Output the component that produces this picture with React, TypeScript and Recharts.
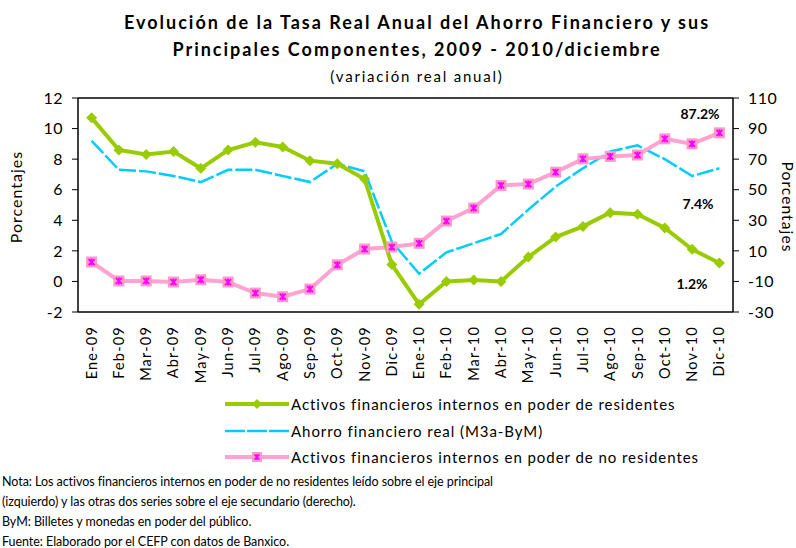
import React from 'react';
import { ComposedChart, Line, XAxis, YAxis, ReferenceLine } from 'recharts';

const months = [
  'Ene-09', 'Feb-09', 'Mar-09', 'Abr-09', 'May-09', 'Jun-09', 'Jul-09', 'Ago-09', 'Sep-09', 'Oct-09', 'Nov-09', 'Dic-09',
  'Ene-10', 'Feb-10', 'Mar-10', 'Abr-10', 'May-10', 'Jun-10', 'Jul-10', 'Ago-10', 'Sep-10', 'Oct-10', 'Nov-10', 'Dic-10',
];

// eje izquierdo
const residentes = [10.7, 8.6, 8.3, 8.5, 7.4, 8.6, 9.1, 8.8, 7.9, 7.7, 6.7, 1.1, -1.5, 0.0, 0.1, 0.0, 1.6, 2.9, 3.6, 4.5, 4.4, 3.5, 2.1, 1.2];
const ahorro = [9.2, 7.3, 7.2, 6.9, 6.5, 7.3, 7.3, 6.9, 6.5, 7.7, 7.2, 2.6, 0.5, 1.9, 2.5, 3.1, 4.7, 6.2, 7.4, 8.5, 8.9, 8.0, 6.9, 7.4];
// eje derecho
const noResidentes = [2.7, -9.7, -9.7, -10.4, -8.9, -10.4, -17.6, -20.0, -15.0, 0.9, 11.2, 12.5, 14.9, 29.5, 38.0, 52.8, 53.7, 61.5, 70.2, 71.8, 72.7, 83.3, 80.0, 87.2];

const leftTicks = [-2, 0, 2, 4, 6, 8, 10, 12];
const rightTicks = [-30, -10, 10, 30, 50, 70, 90, 110];

const data = months.map((m, i) => ({
  mes: m,
  residentes: residentes[i],
  ahorro: ahorro[i],
  noResidentes: noResidentes[i],
}));

const GREEN = '#99CC00';
const BLUE = '#00CCFF';
const PINK = '#FFA3D1';
const MAGENTA = '#FF00FF';
const FONT = 'Lato, "Open Sans", sans-serif';

const Diamond = (props: any) => {
  const { cx, cy } = props;
  if (cx == null || cy == null) return null;
  const r = 5.5;
  return <path d={`M${cx},${cy - r}L${cx + r},${cy}L${cx},${cy + r}L${cx - r},${cy}Z`} fill={GREEN} />;
};

const StarSquare = (props: any) => {
  const { cx, cy } = props;
  if (cx == null || cy == null) return null;
  const s = 5.5;
  const a = 3;
  return (
    <g>
      <rect x={cx - s} y={cy - s} width={s * 2} height={s * 2} fill="#FF99CC" />
      <path d={`M${cx - a},${cy - a}L${cx + a},${cy + a}M${cx + a},${cy - a}L${cx - a},${cy + a}M${cx},${cy - a - 0.5}L${cx},${cy + a + 0.5}`} stroke={MAGENTA} strokeWidth={1.8} />
    </g>
  );
};

const MonthTick = (props: any) => {
  const { x, y, payload } = props;
  return (
    <text x={x} y={y} transform={`rotate(-90, ${x}, ${y})`} dx={-6} dy={5} textAnchor="end" fontSize={14.5} fill="#000" fontFamily={FONT} letterSpacing={1.2}>
      {payload.value}
    </text>
  );
};

const legendRows = [
  { label: 'Activos financieros internos en poder de residentes', kind: 'green' },
  { label: 'Ahorro financiero real (M3a-ByM)', kind: 'blue' },
  { label: 'Activos financieros internos en poder de no residentes', kind: 'pink' },
];

const notes = [
  'Nota: Los activos financieros internos en poder de no residentes leído sobre el eje principal',
  '(izquierdo) y las otras dos series sobre el eje secundario (derecho).',
  'ByM: Billetes y monedas en poder del público.',
  'Fuente: Elaborado por el CEFP con datos de Banxico.',
];

const tickStyle = { fill: '#000', fontSize: 16, fontFamily: FONT, letterSpacing: 0.5 };

export default function App() {
  return (
    <div style={{ position: 'absolute', left: 0, top: 0, width: 796, height: 548, background: '#fff', fontFamily: FONT, overflow: 'hidden' }}>
      <div style={{ position: 'absolute', left: 19, width: 796, top: 9, textAlign: 'center', fontWeight: 700, fontSize: 18, lineHeight: '27px', letterSpacing: 2 }}>
        Evolución de la Tasa Real Anual del Ahorro Financiero y sus
        <br />
        Principales Componentes, 2009 - 2010/diciembre
      </div>
      <div style={{ position: 'absolute', left: 19, width: 796, top: 67, textAlign: 'center', fontSize: 15, letterSpacing: 1.8 }}>
        (variación real anual)
      </div>

      <div style={{ position: 'absolute', left: 0, top: 0 }}>
        <ComposedChart width={796} height={548} data={data} margin={{ top: 98, right: 13, bottom: 176, left: 38 }}>
          <XAxis
            dataKey="mes"
            interval={0}
            height={60}
            padding={{ left: 13.6, right: 13.6 }}
            tick={<MonthTick />}
            tickLine={false}
            axisLine={{ stroke: '#000', strokeWidth: 1.5 }}
          />
          <YAxis
            yAxisId="left"
            width={40}
            domain={[-2, 12]}
            ticks={leftTicks}
            tick={tickStyle}
            tickMargin={9}
            axisLine={{ stroke: '#000', strokeWidth: 1.5 }}
            tickLine={{ stroke: '#000' }}
            allowDataOverflow
          />
          <YAxis
            yAxisId="right"
            orientation="right"
            width={50}
            domain={[-30, 110]}
            ticks={rightTicks}
            tick={tickStyle}
            tickMargin={9}
            axisLine={{ stroke: '#000', strokeWidth: 1.5 }}
            tickLine={{ stroke: '#000' }}
            allowDataOverflow
          />
          <ReferenceLine yAxisId="left" y={12} stroke="#000" strokeWidth={1.5} />
          <Line yAxisId="left" type="linear" dataKey="ahorro" stroke={BLUE} strokeWidth={2.5} strokeDasharray="17 3" dot={false} isAnimationActive={false} />
          <Line yAxisId="right" type="linear" dataKey="noResidentes" stroke={PINK} strokeWidth={4} dot={<StarSquare />} isAnimationActive={false} />
          <Line yAxisId="left" type="linear" dataKey="residentes" stroke={GREEN} strokeWidth={4} dot={<Diamond />} isAnimationActive={false} />
        </ComposedChart>
      </div>

      <div style={{ position: 'absolute', left: 16, top: 197, fontSize: 16, lineHeight: '16px', letterSpacing: 1 }}>
        <div style={{ position: 'absolute', left: 0, top: 0, transform: 'translate(-50%, -50%) rotate(-90deg)', whiteSpace: 'nowrap' }}>Porcentajes</div>
      </div>
      <div style={{ position: 'absolute', left: 787, top: 207, fontSize: 15.5, lineHeight: '15px', letterSpacing: 1.1 }}>
        <div style={{ position: 'absolute', left: 0, top: 0, transform: 'translate(-50%, -50%) rotate(90deg)', whiteSpace: 'nowrap' }}>Porcentajes</div>
      </div>

      <div style={{ position: 'absolute', left: 700, top: 113, transform: 'translate(-50%, -50%)', fontWeight: 700, fontSize: 14 }}>87.2%</div>
      <div style={{ position: 'absolute', left: 698, top: 203, transform: 'translate(-50%, -50%)', fontWeight: 700, fontSize: 14 }}>7.4%</div>
      <div style={{ position: 'absolute', left: 692, top: 283, transform: 'translate(-50%, -50%)', fontWeight: 700, fontSize: 14 }}>1.2%</div>

      {legendRows.map((row, i) => (
        <div key={row.kind} style={{ position: 'absolute', left: 225, top: 404 + i * 26.5 - 11, height: 22, display: 'flex', alignItems: 'center', fontSize: 15, letterSpacing: 0.95 }}>
          <svg width={64} height={14} style={{ marginRight: 2 }}>
            {row.kind === 'green' && (
              <g>
                <line x1={0} y1={7} x2={64} y2={7} stroke={GREEN} strokeWidth={4} />
                <path d="M32,2L37,7L32,12L27,7Z" fill={GREEN} />
              </g>
            )}
            {row.kind === 'blue' && <line x1={0} y1={7} x2={64} y2={7} stroke={BLUE} strokeWidth={2.5} strokeDasharray="20 2" />}
            {row.kind === 'pink' && (
              <g>
                <line x1={0} y1={7} x2={64} y2={7} stroke={PINK} strokeWidth={4} />
                <rect x={27} y={2} width={10} height={10} fill="#FF99CC" />
                <path d="M29.5,4.5L34.5,9.5M34.5,4.5L29.5,9.5M32,4L32,10" stroke={MAGENTA} strokeWidth={1.6} />
              </g>
            )}
          </svg>
          <span>{row.label}</span>
        </div>
      ))}

      <div style={{ position: 'absolute', left: 2, top: 472, fontSize: 12.5, lineHeight: '20px', letterSpacing: -0.05 }}>
        {notes.map((n) => (
          <div key={n}>{n}</div>
        ))}
      </div>
    </div>
  );
}
